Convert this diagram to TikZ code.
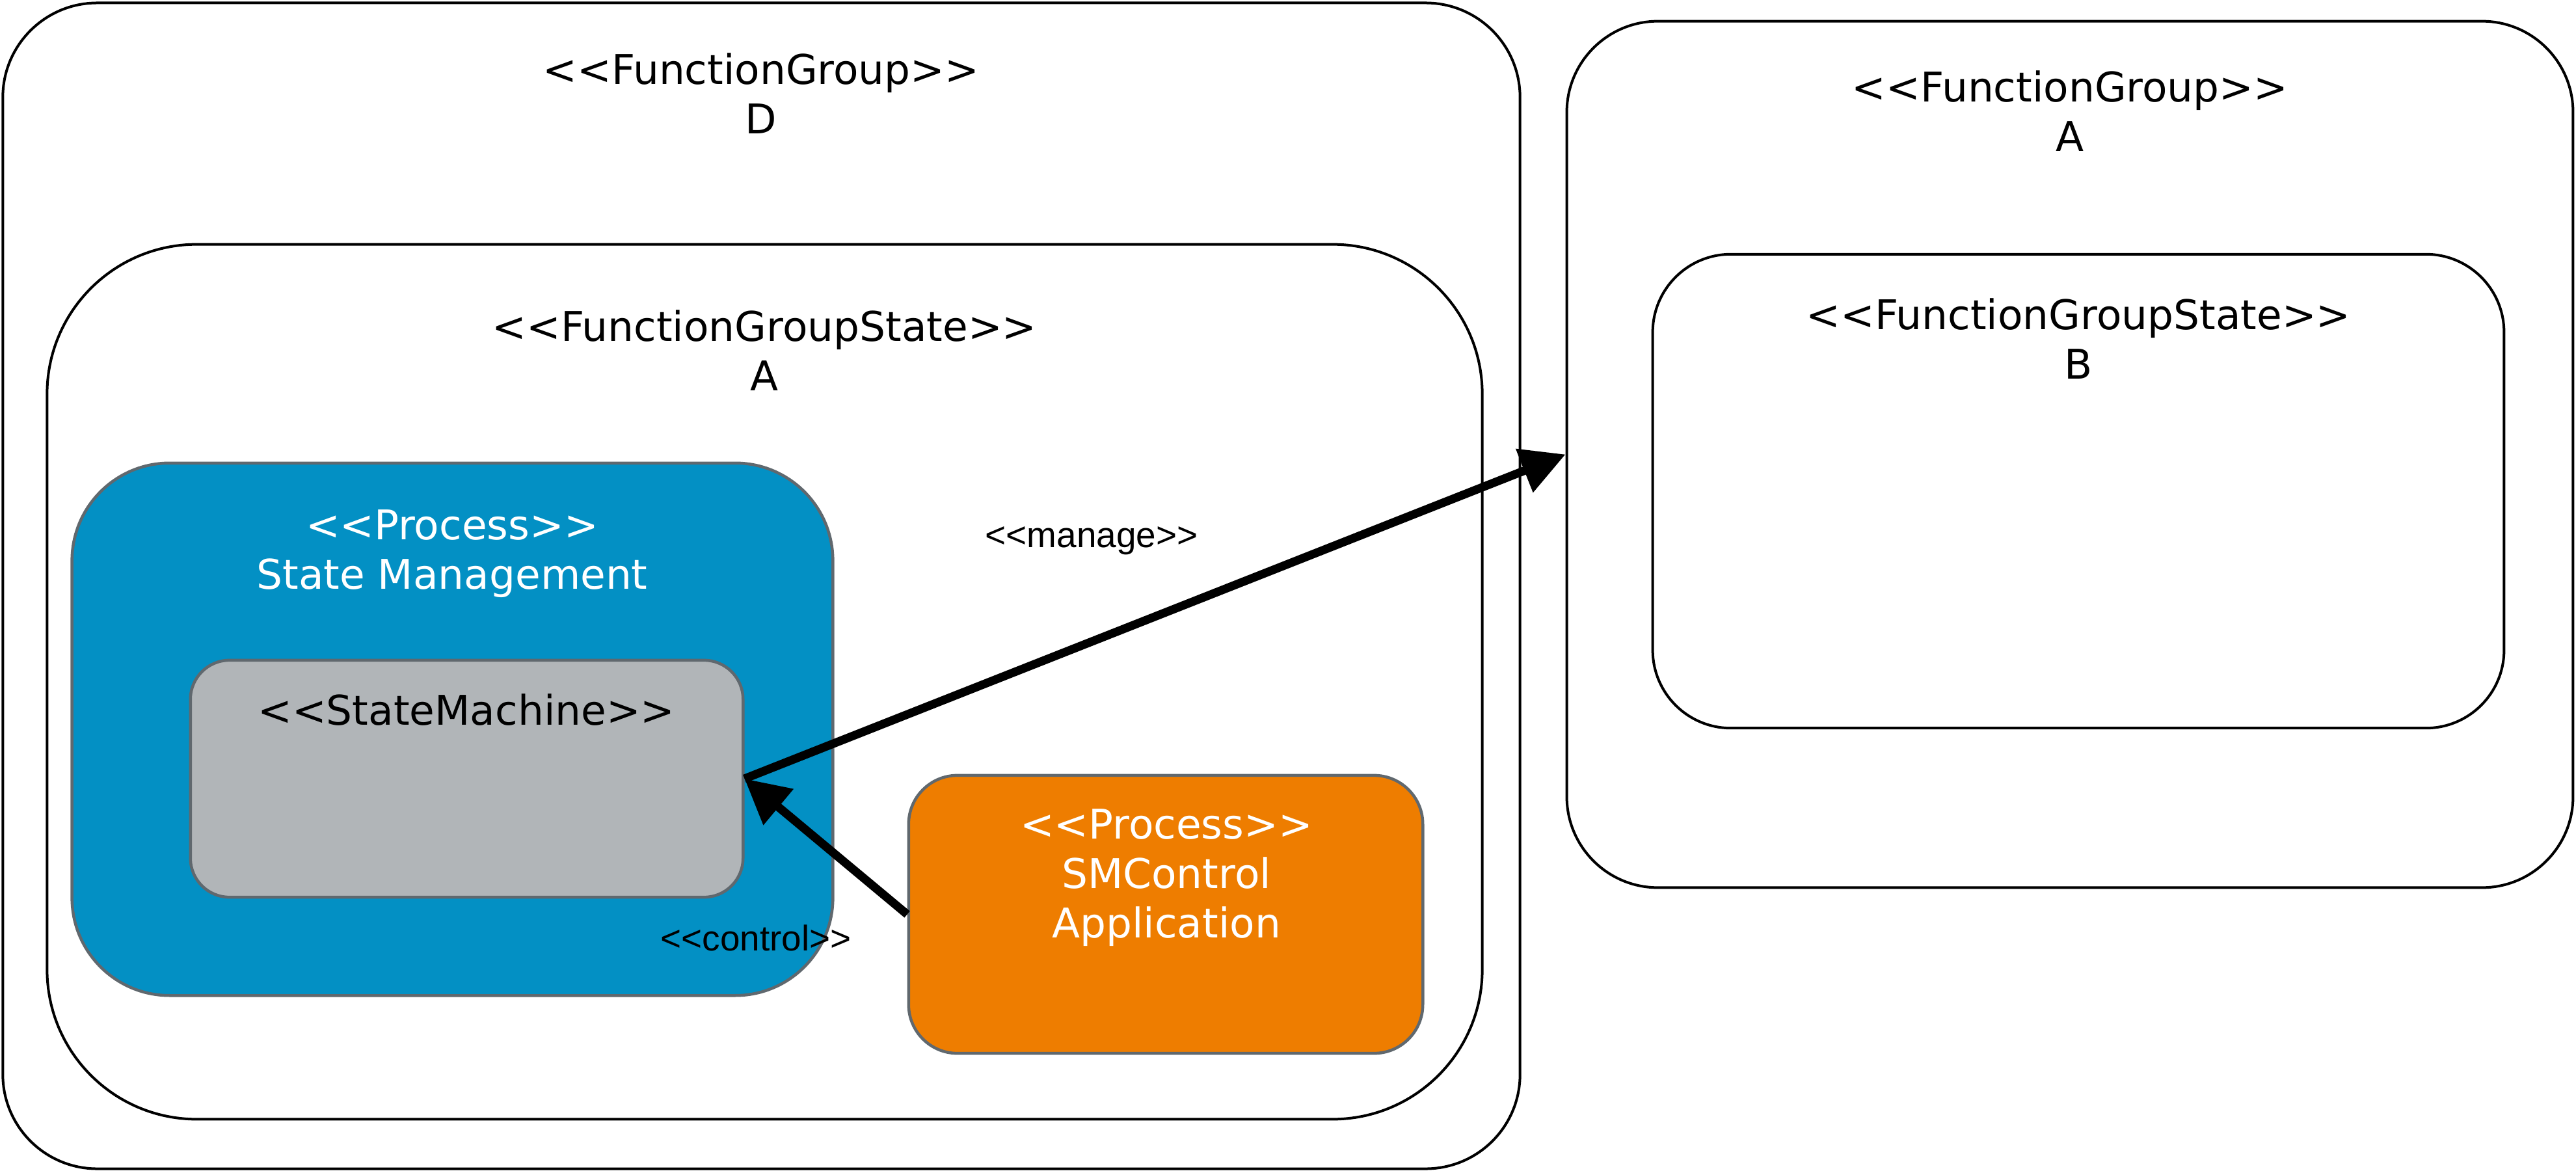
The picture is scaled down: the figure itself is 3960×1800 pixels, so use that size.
\documentclass[tikz,border=0pt]{standalone}
\usepackage{fontspec}
\newfontfamily\dvs{DejaVu Sans}
\newfontfamily\lib{Liberation Sans}
\usetikzlibrary{arrows.meta}
\definecolor{procblue}{RGB}{3,144,196}
\definecolor{smgrey}{RGB}{177,181,184}
\definecolor{procorange}{RGB}{238,125,0}
\definecolor{edgegrey}{RGB}{96,104,110}
\begin{document}
\begin{tikzpicture}[x=0.01cm, y=-0.01cm,
  ctr/.style={draw=black, line width=0.04cm, fill=white, rectangle, inner sep=0pt},
  proc/.style={draw=edgegrey, line width=0.045cm, rectangle, inner sep=0pt},
  ttl/.style={font=\dvs\fontsize{17.9}{21.6}\selectfont, align=center, inner sep=0pt},
  lbl/.style={font=\lib\fontsize{15.6}{18}\selectfont, inner sep=0pt},
  conn/.style={line width=0.13cm, -{Triangle[length=0.68cm,width=0.69cm]}}
]
\useasboundingbox (0,0) rectangle (3960,1800);
\fill[white] (0,0) rectangle (3960,1800);
% left function group D
\node[ctr, minimum width=23.31cm, minimum height=17.91cm, rounded corners=1.45cm] (fgD) at (1170.5,900.5) {};
\node[ctr, minimum width=22.05cm, minimum height=13.44cm, rounded corners=2.3cm] (fgsA) at (1175.5,1048) {};
\node[proc, fill=procblue, minimum width=11.69cm, minimum height=8.18cm, rounded corners=1.5cm] (pSM) at (695.5,1121) {};
\node[proc, fill=smgrey, minimum width=8.49cm, minimum height=3.64cm, rounded corners=0.6cm] (sm) at (717.5,1197) {};
\node[proc, fill=procorange, minimum width=7.90cm, minimum height=4.27cm, rounded corners=0.75cm] (pApp) at (1792,1405.5) {};
% right function group A
\node[ctr, minimum width=15.46cm, minimum height=13.31cm, rounded corners=1.4cm] (fgA) at (3182,698.5) {};
\node[ctr, minimum width=13.08cm, minimum height=7.28cm, rounded corners=1.2cm] (fgsB) at (3195,755) {};
% titles
\node[ttl] (tD) at (1170,144) {<<FunctionGroup>>\\D};
\node[ttl] (tfgsA) at (1175,539) {<<FunctionGroupState>>\\A};
\node[ttl] (tfgA) at (3182,171) {<<FunctionGroup>>\\A};
\node[ttl] (tfgsB) at (3195,521) {<<FunctionGroupState>>\\B};
\node[ttl, text=white] (tpSM) at (695,851) {<<Process>>\\State Management};
\node[ttl] (tsm) at (717,1091) {<<StateMachine>>};
\node[ttl, text=white] (tpApp) at (1793,1349) {<<Process>>\\SMControl\\Application};
% connectors
\draw[conn] (sm.east) -- (fgA.west);
\draw[conn] (pApp.west) -- (sm.east);
\node[lbl] (lmanage) at (1678,831) {<<manage>>};
\node[lbl] (lcontrol) at (1162,1442) {<<control>>};
\end{tikzpicture}
\end{document}
